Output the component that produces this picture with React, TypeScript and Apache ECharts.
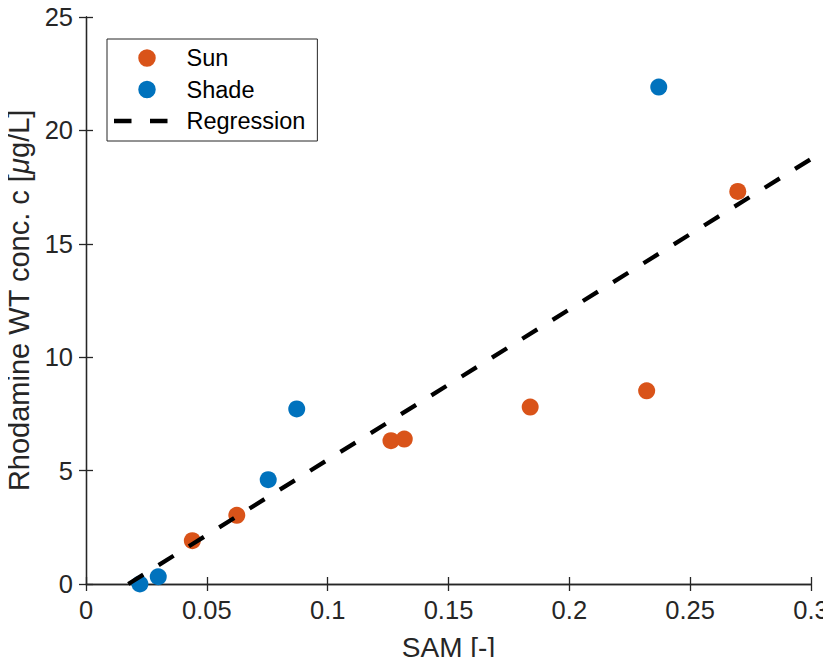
import React, { useEffect, useRef } from "react";
import * as echarts from "echarts";

const sunSAM = [0.044, 0.0624, 0.1262, 0.1317, 0.1838, 0.232, 0.2697];
const sunConc = [1.91, 3.03, 6.32, 6.39, 7.8, 8.52, 17.31];
const shadeSAM = [0.0223, 0.0299, 0.0754, 0.0872, 0.237];
const shadeConc = [0.0, 0.32, 4.6, 7.72, 21.91];
const regressionSAM = [0.0175, 0.3];
const regressionConc = [0.0, 18.74];

const xMin = 0;
const xMax = 0.3;
const xStep = 0.05;
const yMin = 0;
const yMax = 25;
const yStep = 5;

const AXIS_COLOR = "#262626";
const FONT = "'Liberation Sans', Arial, Helvetica, sans-serif";

// legend icons (shapes only, sized to the legend item box)
const CIRCLE_ICON =
  "path://M0,0L0.01,0M53.5,17.5L53.49,17.5M24.25,8.75A8.75,8.75,0,1,1,41.75,8.75A8.75,8.75,0,1,1,24.25,8.75Z";
const DASH_ICON = "path://M0,0h17.5v4.5h-17.5zM36,0h17.5v4.5h-17.5z";

export default function App() {
  const ref = useRef<HTMLDivElement>(null);
  useEffect(() => {
    if (!ref.current) return;
    const chart = echarts.init(ref.current, undefined, { renderer: "svg" });
    const pairs = (xs: number[], ys: number[]) => xs.map((x, i) => [x, ys[i]]);
    const axisCommon = {
      axisLine: { show: true, lineStyle: { color: AXIS_COLOR, width: 1.3 } },
      axisTick: { show: true, inside: true, length: 7, lineStyle: { color: AXIS_COLOR, width: 1.3 } },
      splitLine: { show: false },
    };
    chart.setOption({
      animation: false,
      backgroundColor: "#ffffff",
      textStyle: { fontFamily: FONT },
      grid: {
        left: 86,
        right: 20,
        top: 17,
        bottom: 81,
        containLabel: false,
        outerBoundsMode: "none",
      },
      legend: {
        orient: "vertical",
        left: 107,
        top: 39,
        data: [
          { name: "Sun", icon: CIRCLE_ICON },
          { name: "Shade", icon: CIRCLE_ICON },
          { name: "Regression", icon: DASH_ICON },
        ],
        backgroundColor: "#ffffff",
        borderColor: AXIS_COLOR,
        borderWidth: 1,
        padding: [7, 12, 8, 7],
        itemWidth: 53.5,
        itemHeight: 17.5,
        itemGap: 7.5,
        textStyle: { fontSize: 23.5, color: "#000000", fontFamily: FONT, padding: [0, 0, 0, 14] },
      },
      xAxis: [
        {
          type: "value",
          min: xMin,
          max: xMax,
          interval: xStep,
          name: "SAM [-]",
          nameLocation: "middle",
          nameGap: 49,
          nameTextStyle: { fontSize: 28, color: AXIS_COLOR, fontFamily: FONT },
          axisLabel: { fontSize: 25.5, color: AXIS_COLOR, margin: 13, fontFamily: FONT },
          ...axisCommon,
        },
        {
          type: "value",
          position: "top",
          min: xMin,
          max: xMax,
          interval: xStep,
          axisLabel: { show: false },
          ...axisCommon,
        },
      ],
      yAxis: [
        {
          type: "value",
          min: yMin,
          max: yMax,
          interval: yStep,
          name: "Rhodamine WT conc. c [{i|μ}g/L]",
          nameLocation: "middle",
          nameGap: 51,
          nameTextStyle: {
            fontSize: 29,
            color: AXIS_COLOR,
            fontFamily: FONT,
            rich: { i: { fontSize: 29, fontStyle: "italic", color: AXIS_COLOR, fontFamily: FONT } },
          },
          axisLabel: { fontSize: 25.5, color: AXIS_COLOR, margin: 13, fontFamily: FONT },
          ...axisCommon,
        },
        {
          type: "value",
          position: "right",
          min: yMin,
          max: yMax,
          interval: yStep,
          axisLabel: { show: false },
          ...axisCommon,
        },
      ],
      series: [
        {
          name: "Regression",
          type: "line",
          data: pairs(regressionSAM, regressionConc),
          showSymbol: false,
          symbol: "none",
          lineStyle: { color: "#000000", width: 4.3, type: [17.7, 18] },
          itemStyle: { color: "#000000" },
          z: 3,
        },
        {
          name: "Sun",
          type: "scatter",
          data: pairs(sunSAM, sunConc),
          symbol: "circle",
          symbolSize: 17,
          itemStyle: { color: "#D95319", opacity: 1 },
          z: 2,
        },
        {
          name: "Shade",
          type: "scatter",
          data: pairs(shadeSAM, shadeConc),
          symbol: "circle",
          symbolSize: 17,
          itemStyle: { color: "#0072BD", opacity: 1 },
          z: 2,
        },
      ],
    });
    return () => chart.dispose();
  }, []);
  return <div ref={ref} style={{ width: 831, height: 665, margin: -8 }} />;
}
